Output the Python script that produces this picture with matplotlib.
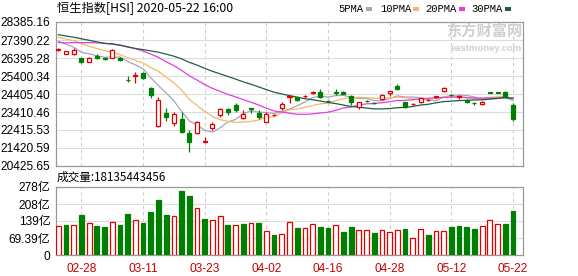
import numpy as np
import pandas as pd
import matplotlib
matplotlib.use("Agg")
import matplotlib.pyplot as plt
from matplotlib.patches import Rectangle

plt.rcParams['font.family'] = ['Liberation Sans', 'Noto Sans CJK SC', 'DejaVu Sans']

# trading days shown (2020)
days = ['02-25', '02-26', '02-27', '02-28',
        '03-02', '03-03', '03-04', '03-05', '03-06', '03-09', '03-10', '03-11', '03-12', '03-13',
        '03-16', '03-17', '03-18', '03-19', '03-20', '03-23', '03-24', '03-25', '03-26', '03-27',
        '03-30', '03-31', '04-01', '04-02', '04-03', '04-06', '04-07', '04-08', '04-09', '04-14',
        '04-15', '04-16', '04-17', '04-20', '04-21', '04-22', '04-23', '04-24', '04-27', '04-28',
        '04-29', '05-04', '05-05', '05-06', '05-07', '05-08', '05-11', '05-12', '05-13', '05-14',
        '05-15', '05-18', '05-19', '05-20', '05-21', '05-22']
tick_days = ['02-28', '03-11', '03-23', '04-02', '04-16', '04-28', '05-12', '05-22']

# OHLC
open_ = [26820, 26640, 26640, 26380, 26190, 26520, 26410, 26410, 26410, 25190,
         25420, 25550, 24720, 22640, 23370, 22790, 23020, 22230, 22230, 21770,
         22510, 23250, 23600, 23800, 23060, 23620, 23370, 22880, 23240, 23650,
         24260, 24220, 24300, 24480, 24540, 24030, 24500, 24540, 24300, 23710,
         24030, 23910, 24130, 24440, 24870, 23950, 23860, 23950, 24060, 24250,
         24570, 24370, 24250, 24080, 23910, 23840, 24490, 24500, 24540, 23800]
high = [26960, 26800, 26930, 26410, 26450, 26600, 26440, 26880, 26470, 25380,
        25600, 25600, 24810, 24260, 23650, 23430, 23390, 22420, 22910, 22050,
        22840, 23650, 23620, 23890, 23520, 23650, 23520, 23390, 23300, 23950,
        24300, 24260, 24330, 24560, 24680, 24090, 24680, 24570, 24330, 23990,
        24100, 23970, 24380, 24580, 24940, 23980, 23920, 24200, 24120, 24300,
        24810, 24420, 24330, 24110, 23970, 24020, 24540, 24540, 24570, 23890]
low = [26780, 26620, 26560, 26100, 26170, 26340, 26300, 26380, 26230, 25080,
       25030, 25230, 24200, 22600, 22910, 22640, 22230, 21180, 22200, 21770,
       22420, 23150, 23250, 23430, 23020, 23340, 23000, 22840, 23200, 23520,
       23890, 24020, 24170, 24420, 24170, 23960, 24350, 24380, 23800, 23580,
       23980, 23850, 24070, 24300, 24630, 23650, 23800, 23910, 24020, 24200,
       24540, 24300, 24150, 23910, 23800, 23800, 24440, 24440, 24220, 22910]
close = [26900, 26780, 26850, 26190, 26410, 26380, 26360, 26840, 26270, 25160,
         25460, 25270, 24350, 24070, 23150, 23300, 22330, 21770, 22840, 21800,
         22730, 23560, 23390, 23540, 23320, 23600, 23150, 23300, 23260, 23870,
         24290, 24060, 24320, 24500, 24260, 24010, 24480, 24410, 23940, 23960,
         24010, 23890, 24350, 24570, 24680, 23710, 23880, 24170, 24080, 24270,
         24760, 24350, 24270, 23950, 23890, 23980, 24470, 24480, 24260, 23020]
# closes of the 29 sessions before the window (they set the early MA values)
prior_close = [28955, 28885, 28774, 28883, 29056, 28796, 27985, 28341, 27909, 27950,
               27161, 26449, 26313, 26357, 26676, 26787, 27494, 27404, 27241, 27584,
               27824, 27730, 27816, 27960, 27530, 27656, 27655, 27609, 26821]
# volume, 亿
volume = [118, 122, 122, 162, 131, 118, 114, 135, 122, 169,
          142, 131, 175, 226, 162, 158, 260, 241, 190, 146,
          142, 158, 122, 122, 126, 131, 131, 97, 81, 85,
          134, 110, 110, 126, 114, 110, 122, 93, 114, 103,
          104, 89, 102, 93, 102, 106, 69, 106, 81, 97,
          97, 114, 118, 114, 106, 118, 142, 126, 126, 181.35]

price_ticks = [20425.65, 21420.59, 22415.53, 23410.46, 24405.40, 25400.34, 26395.28, 27390.22, 28385.16]
vol_ticks = [0, 69.39, 139, 208, 277.56]
vol_tick_labels = ['0', '69.39亿', '139亿', '208亿', '278亿']

ma_windows = [5, 10, 20, 30]
ma_names = ['5PMA', '10PMA', '20PMA', '30PMA']
ma_colors = ['#a8a4c0', '#f2b96a', '#e040e0', '#1e5f45']

UP = '#e00000'
DOWN = '#008000'
GRID = '#dddddd'
EDGE = '#999999'

x = np.arange(len(days))
all_close = pd.Series(prior_close + close)
n_prior = len(prior_close)

W, H = 578, 276
fig = plt.figure(figsize=(W / 100, H / 100), dpi=100)


def fx(px):
    return px / W


def fy(py):
    return 1 - py / H


ax = fig.add_axes([fx(56), fy(166), fx(523) - fx(56), fy(22) - fy(166)])
axv = fig.add_axes([fx(56), fy(255), fx(523) - fx(56), fy(187) - fy(255)])

tick_pos = [days.index(d) for d in tick_days]

for a in (ax, axv):
    a.set_xlim(-0.3, 60.3)
    for p in tick_pos:
        a.axvline(p, color='#cccccc', lw=0.8, ls=(0, (3, 3)), zorder=0)
    for s in a.spines.values():
        s.set_color(EDGE)
        s.set_linewidth(0.9)
    a.tick_params(length=0, labelsize=8.6, pad=4)

# price panel
ax.set_ylim(price_ticks[0], price_ticks[-1])
ax.set_yticks(price_ticks)
ax.set_yticklabels(['%.2f' % v for v in price_ticks])
ax.yaxis.grid(True, color=GRID, lw=0.8)
ax.set_axisbelow(True)
ax.set_xticks([])

# watermark
ax.text(0.998, 0.995, '东方财富网', transform=ax.transAxes,
        ha='right', va='top', fontsize=11, color='#d0d0d0',
        family=['Noto Sans CJK SC'], weight='bold', zorder=1)
ax.text(0.998, 0.845, 'eastmoney.com', transform=ax.transAxes, ha='right', va='top',
        fontsize=6.8, color='#d0d0d0', weight='bold', zorder=1)

for w, c in zip(ma_windows, ma_colors):
    ma = all_close.rolling(w).mean().values[n_prior:]
    ax.plot(x, ma, color=c, lw=0.9, zorder=2)

bw = 0.52
for i in x:
    o, h, l, c = open_[i], high[i], low[i], close[i]
    up = c >= o
    col = UP if up else DOWN
    lo, hi = min(o, c), max(o, c)
    ax.vlines(i, l, lo, color=col, lw=0.9, zorder=3)
    ax.vlines(i, hi, h, color=col, lw=0.9, zorder=3)
    ax.add_patch(Rectangle((i - bw / 2, lo), bw, max(hi - lo, 1),
                           facecolor='white' if up else col, edgecolor=col, lw=0.9, zorder=4))

# volume panel
axv.set_ylim(0, vol_ticks[-1])
axv.set_yticks(vol_ticks)
axv.set_yticklabels(vol_tick_labels)
axv.yaxis.grid(True, color=GRID, lw=0.8)
axv.set_axisbelow(True)
axv.set_xticks(tick_pos)
axv.set_xticklabels(tick_days, color='#cc0000')
axv.tick_params(axis='x', pad=6)

prev = [prior_close[-1]] + close[:-1]
vol_up = [c >= p for c, p in zip(close, prev)]
axv.bar(x, volume, width=0.62,
        color=['white' if u else DOWN for u in vol_up],
        edgecolor=[UP if u else DOWN for u in vol_up], lw=0.9, zorder=3)

# header texts
fig.text(fx(57), fy(9), '恒生指数[HSI] 2020-05-22 16:00', fontsize=8.8,
         va='center', ha='left', family=['Noto Sans CJK SC'])
fig.text(fx(57), fy(177), '成交量:18135443456', fontsize=8.4,
         va='center', ha='left', family=['Noto Sans CJK SC'])

leg_text_x = [338, 380, 425, 471]
leg_box_x = [366, 413, 459, 505]
for tx, bx, name, c in zip(leg_text_x, leg_box_x, ma_names, ma_colors):
    fig.text(fx(tx), fy(9), name, fontsize=7.6, va='center', ha='left',
             family=['Liberation Mono'])
    fig.patches.append(Rectangle((fx(bx), fy(11)), fx(6), 4 / H, facecolor=c,
                                 edgecolor='none', transform=fig.transFigure, figure=fig))

fig.savefig('out.png', dpi=100)
